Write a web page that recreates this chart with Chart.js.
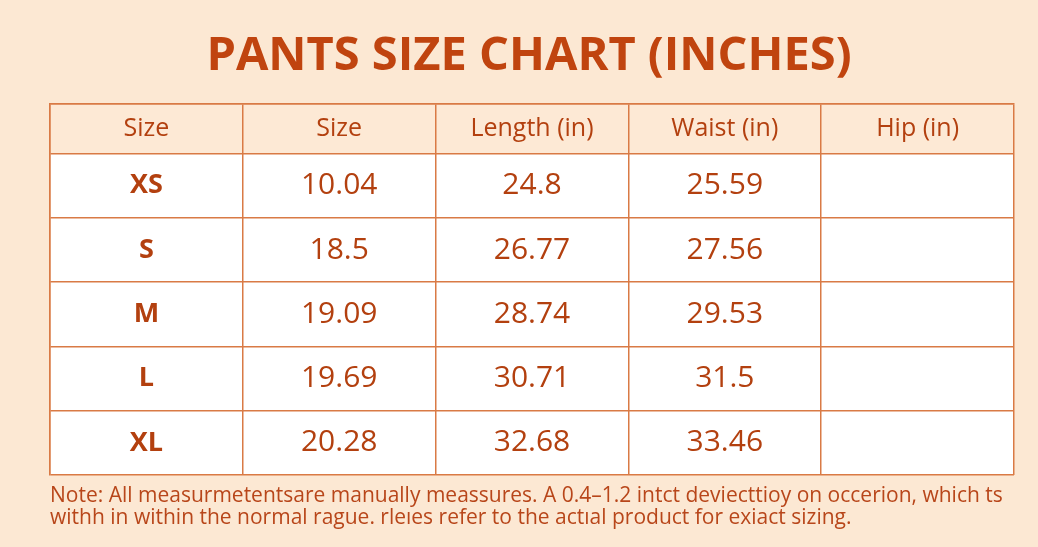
<!DOCTYPE html>
<html><head><meta charset="utf-8">
<script src="https://cdn.jsdelivr.net/npm/chart.js@4/dist/chart.umd.min.js"></script>
<style>html,body{margin:0;padding:0;background:#fce8d3;}canvas{display:block}</style>
</head><body>
<canvas id="c" width="1038" height="547"></canvas>
<script>
const title = "PANTS SIZE CHART (INCHES)";
const headers = ["Size", "Size", "Length (in)", "Waist (in)", "Hip (in)"];
const sizes = ["XS", "S", "M", "L", "XL"];
const sizeValues = ["10.04", "18.5", "19.09", "19.69", "20.28"];
const lengthValues = ["24.8", "26.77", "28.74", "30.71", "32.68"];
const waistValues = ["25.59", "27.56", "29.53", "31.5", "33.46"];
const hipValues = ["", "", "", "", ""];
const notes = ["Note: All measurmetentsare manually meassures. A 0.4\u20131.2 intct deviecttioy on occerion, which ts",
               "withh in within the normal rague. rleıes refer to the actıal product for exiact sizing."];

const columns = [sizes, sizeValues, lengthValues, waistValues, hipValues];
const HEADER_H = 0.77;
const TEXT = "#b3400f", BORDER = "#d97a45";

const tablePlugin = {
  id: 'table',
  beforeDraw(chart) {
    const {ctx, scales:{x, y}} = chart;
    ctx.save();
    const x0 = x.getPixelForValue(0), x1 = x.getPixelForValue(5);
    ctx.fillStyle = "#fde9d5";
    ctx.fillRect(x0, y.getPixelForValue(0), x1-x0, y.getPixelForValue(HEADER_H)-y.getPixelForValue(0));
    ctx.fillStyle = "#ffffff";
    ctx.fillRect(x0, y.getPixelForValue(HEADER_H), x1-x0, y.getPixelForValue(HEADER_H+5)-y.getPixelForValue(HEADER_H));
    ctx.restore();
  },
  afterDraw(chart) {
    const {ctx, scales:{x, y}} = chart;
    ctx.save();
    ctx.textAlign = "center"; ctx.textBaseline = "middle";
    ctx.fillStyle = "#c0440f";
    ctx.font = "bold 47px 'Open Sans'";
    ctx.fillText(title, 529, 57);
    ctx.fillStyle = TEXT;
    ctx.font = "500 25px 'Open Sans'";
    headers.forEach((h, i) => ctx.fillText(h, x.getPixelForValue(i+0.5), y.getPixelForValue(HEADER_H/2)));
    columns.forEach((col, i) => {
      ctx.font = i === 0 ? "bold 27px 'Open Sans'" : "500 30px 'Open Sans'";
      col.forEach((v, r) => ctx.fillText(v, x.getPixelForValue(i+0.5), y.getPixelForValue(HEADER_H + r + 0.5)));
    });
    ctx.textAlign = "left";
    ctx.font = "21px 'Open Sans'";
    ctx.fillStyle = "#b8461a";
    notes.forEach((n, i) => ctx.fillText(n, 50, 496 + i*22));
    ctx.restore();
  }
};

const gridOpts = {color: BORDER, lineWidth: 1.5, drawTicks: false};
new Chart(document.getElementById('c'), {
  type: 'scatter',
  data: {datasets: [{data: [], pointRadius: 0}]},
  options: {
    responsive: false, animation: false,
    layout: {padding: {top: 104, bottom: 72, left: 50, right: 24}},
    plugins: {legend: {display: false}, tooltip: {enabled: false}},
    scales: {
      x: {type: 'linear', min: 0, max: 5, position: 'top',
          afterBuildTicks: s => { s.ticks = [0,1,2,3,4,5].map(v => ({value: v})); },
          ticks: {display: false}, grid: gridOpts, border: {color: BORDER, width: 1.5}},
      y: {type: 'linear', min: 0, max: HEADER_H + 5, reverse: true,
          afterBuildTicks: s => { s.ticks = [0, HEADER_H, HEADER_H+1, HEADER_H+2, HEADER_H+3, HEADER_H+4, HEADER_H+5].map(v => ({value: v})); },
          ticks: {display: false}, grid: gridOpts, border: {color: BORDER, width: 1.5}}
    }
  },
  plugins: [tablePlugin]
});
</script>
</body></html>
